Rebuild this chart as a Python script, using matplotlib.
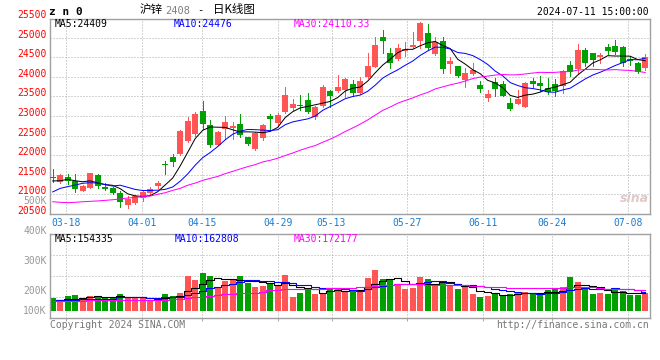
import numpy as np
import pandas as pd
import matplotlib
matplotlib.use("Agg")
import matplotlib.pyplot as plt
import matplotlib.transforms as mtransforms

# ---------------- data ----------------
dates = ["03-14", "03-15", "03-18", "03-19", "03-20", "03-21", "03-22", "03-25", "03-26", "03-27",
         "03-28", "03-29", "04-01", "04-02", "04-03", "04-08", "04-09", "04-10", "04-11", "04-12",
         "04-15", "04-16", "04-17", "04-18", "04-19", "04-22", "04-23", "04-24", "04-25", "04-26",
         "04-29", "04-30", "05-06", "05-07", "05-08", "05-09", "05-10", "05-13", "05-14", "05-15",
         "05-16", "05-17", "05-20", "05-21", "05-22", "05-23", "05-24", "05-27", "05-28", "05-29",
         "05-30", "05-31", "06-03", "06-04", "06-05", "06-06", "06-07", "06-11", "06-12", "06-13",
         "06-14", "06-17", "06-18", "06-19", "06-20", "06-21", "06-24", "06-25", "06-26", "06-27",
         "06-28", "07-01", "07-02", "07-03", "07-04", "07-05", "07-08", "07-09", "07-10", "07-11"]

open_ = [21455, 21325, 21455, 21345, 21095, 21170, 21495, 21200, 21165, 21030,
         20730, 20790, 20900, 21030, 21215, 21770, 21955, 22030, 22365, 22540,
         23130, 22770, 22270, 22670, 22700, 22795, 22460, 22160, 22430, 23010,
         22815, 23110, 23210, 23275, 23410, 22970, 23255, 23645, 23645, 23665,
         23815, 23595, 24005, 24260, 25025, 24615, 24445, 24665, 24770, 24920,
         25110, 24575, 24920, 24320, 24275, 23920, 24070, 23790, 23470, 23875,
         23815, 23340, 23305, 23240, 23900, 23850, 23705, 23815, 23765, 24300,
         24190, 24685, 24615, 24515, 24755, 24785, 24755, 24445, 24345, 24215]
high = [21650, 21515, 21515, 21515, 21240, 21555, 21515, 21300, 21185, 21090,
        20960, 20985, 21115, 21200, 21350, 21855, 22025, 22645, 22985, 23095,
        23385, 22900, 22610, 23000, 22850, 23050, 22475, 22600, 22795, 23045,
        23070, 23750, 23435, 23535, 23595, 23255, 23790, 23665, 24045, 23980,
        23920, 24005, 24600, 25025, 25195, 24725, 24835, 24895, 25150, 25405,
        25345, 25025, 25025, 24500, 24275, 24230, 24360, 23895, 23665, 23960,
        23895, 23450, 23665, 23870, 23960, 24020, 23960, 23935, 24175, 24405,
        24835, 24725, 24615, 24615, 24835, 24940, 24785, 24530, 24385, 24580]
low = [21325, 21300, 21260, 21070, 21090, 21155, 21170, 21115, 21010, 20690,
       20660, 20765, 20840, 20985, 21170, 21515, 21735, 22000, 22330, 22490,
       22670, 22220, 22255, 22420, 22420, 22460, 22260, 22135, 22390, 22645,
       22770, 23070, 23155, 23155, 23070, 22915, 23225, 23240, 23620, 23495,
       23510, 23560, 23960, 24245, 24600, 24215, 24430, 24530, 24725, 24725,
       24685, 24555, 24105, 24090, 24005, 23750, 24045, 23605, 23385, 23510,
       23510, 23155, 23305, 23225, 23750, 23645, 23560, 23510, 23595, 24020,
       24090, 24285, 24275, 24360, 24580, 24575, 24285, 24300, 24105, 24175]
close = [21420, 21495, 21350, 21130, 21225, 21540, 21225, 21145, 21030, 20800,
         20885, 20960, 21065, 21145, 21300, 21745, 21835, 22620, 22875, 23050,
         22795, 22260, 22595, 22850, 22745, 22515, 22280, 22560, 22770, 22915,
         23025, 23535, 23305, 23255, 23110, 23225, 23750, 23520, 23750, 23935,
         23595, 23895, 24275, 24810, 24920, 24345, 24725, 24700, 24810, 25380,
         24725, 24895, 24190, 24410, 24020, 24105, 24175, 23690, 23560, 23690,
         23510, 23180, 23435, 23850, 23815, 23765, 23620, 23645, 24150, 24130,
         24685, 24360, 24430, 24555, 24665, 24640, 24360, 24405, 24130, 24515]

# volume in thousands (K) on the chart's axis
volume_k = [163, 150, 175, 178, 163, 173, 167, 167, 167, 183,
            162, 162, 162, 153, 163, 183, 173, 190, 275, 253,
            288, 273, 217, 250, 253, 273, 240, 220, 223, 240,
            223, 278, 170, 190, 215, 183, 190, 207, 215, 195,
            203, 203, 265, 303, 258, 253, 228, 207, 215, 270,
            258, 228, 250, 223, 208, 220, 183, 170, 175, 190,
            178, 183, 195, 195, 183, 190, 203, 207, 220, 270,
            245, 207, 183, 190, 183, 203, 200, 178, 178, 187]

# moving-average values at the start of the window (history before it is not shown)
ma5_head = [21345, 21350, 21385, 21350]
ma10_head = [21065, 21155, 21200, 21240, 21285, 21300, 21290, 21250, 21215]
ma30_head = [20815, 20800, 20790, 20800, 20815, 20825, 20835, 20850, 20865, 20885,
             20910, 20925, 20945, 20960, 21005, 21045, 21105, 21155, 21235, 21290,
             21360, 21410, 21460, 21530, 21590, 21650, 21710, 21760, 21830]
vma5_head = [150, 153, 157, 158]
vma10_head = [150, 152, 153, 155, 157, 157, 158, 158, 160]
vma30_head = [150, 150, 150, 150, 150, 152, 152, 152, 152, 153,
              153, 153, 153, 153, 155, 155, 157, 158, 162, 167,
              170, 173, 178, 182, 185, 187, 188, 191, 194]

price_levels = [20500, 21000, 21500, 22000, 22500, 23000, 23500, 24000, 24500, 25000, 25500]
vol_label_texts = ["100K", "200K", "300K", "400K", "500K"]
date_tick_labels = ["03-18", "04-01", "04-15", "04-29", "05-13", "05-27", "06-11", "06-24", "07-08"]

symbol_text = "z n 0"
title_parts = ["沪锌", "2408", "-", "日K线图"]
timestamp_text = "2024-07-11 15:00:00"
ma_texts = ["MA5:24409", "MA10:24476", "MA30:24110.33"]
vma_texts = ["MA5:154335", "MA10:162808", "MA30:172177"]
copyright_text = "Copyright 2024 SINA.COM"
url_text = "http://finance.sina.com.cn"

# ---------------- derived ----------------
def moving_average(values, n, head):
    ma = pd.Series(values, dtype=float).rolling(n).mean().to_numpy()
    ma[:len(head)] = head
    return ma

ma5 = moving_average(close, 5, ma5_head)
ma10 = moving_average(close, 10, ma10_head)
ma30 = moving_average(close, 30, ma30_head)
vma5 = moving_average(volume_k, 5, vma5_head)
vma10 = moving_average(volume_k, 10, vma10_head)
vma30 = moving_average(volume_k, 30, vma30_head)

# ---------------- style ----------------
W, H = 660, 360
RED = "#ff5555"
GREEN = "#00a000"
GRID = "#aaaaaa"
FRAME = "#a0a0a0"
MONO = "DejaVu Sans Mono"
CJK = ["Noto Sans CJK SC", "DejaVu Sans"]
PT = 72 / 100  # one pixel in points

fig = plt.figure(figsize=(W / 100, H / 100), dpi=100)
fig.patch.set_facecolor("white")


def fx(xp):
    return xp / W


def fy(yp):
    return 1 - yp / H


def ftext(xp, yp, s, **kw):
    kw.setdefault("family", MONO)
    kw.setdefault("size", 7)
    kw.setdefault("va", "center")
    fig.text(fx(xp), fy(yp), s, **kw)


# axes rectangles in pixels
L, R = 50, 650
MAIN_T, MAIN_B = 19, 214
VOL_T, VOL_B = 234, 318
ax = fig.add_axes([fx(L), fy(MAIN_B), (R - L) / W, (MAIN_B - MAIN_T) / H])
axv = fig.add_axes([fx(L), fy(VOL_B), (R - L) / W, (VOL_B - VOL_T) / H])

n = len(close)
x = np.arange(n)
xlim = (-0.36, n - 0.36)
# Sina spreads the date grid over n-1 intervals of the frame
tick_idx = np.array([dates.index(d) for d in date_tick_labels])
grid_x = xlim[0] + (tick_idx + 0.066) * (n / (n - 1))

for a in (ax, axv):
    a.set_xlim(*xlim)
    for s in a.spines.values():
        s.set_color(FRAME)
        s.set_linewidth(1.4 * PT)
    a.set_facecolor("white")
    for gx in grid_x:
        a.axvline(gx, color=GRID, lw=1 * PT, ls=(0, (1, 2)), zorder=0)

# ---- candles ----
o = np.array(open_, float)
c = np.array(close, float)
hi = np.array(high, float)
lo = np.array(low, float)
up = c >= o
colors = np.where(up, RED, GREEN)
body_bottom = np.minimum(o, c)
body_h = np.maximum(np.abs(c - o), 25)
ax.vlines(x, lo, hi, colors=colors, lw=1 * PT, antialiased=False, zorder=2)
ax.bar(x, body_h, bottom=body_bottom, width=0.8, color=colors, lw=0, antialiased=False, zorder=3)

ax.plot(x, ma5, color="black", lw=1 * PT, zorder=4)
ax.plot(x, ma10, color="#0000ff", lw=1 * PT, zorder=4)
ax.plot(x, ma30, color="#ff00ff", lw=1 * PT, zorder=4)

ax.set_ylim(20502, 25474)
for lvl in price_levels[1:-1]:
    ax.axhline(lvl, color=GRID, lw=1 * PT, ls=(0, (1, 2)), zorder=0)
ax.set_yticks([])
trans_p = mtransforms.blended_transform_factory(fig.transFigure, ax.transData)
for lvl in price_levels:
    ax.text(fx(46.5), lvl, str(lvl), transform=trans_p, ha="right", va="baseline",
            family=MONO, size=7, color="#ff0000", clip_on=False)

ax.set_xticks(grid_x)
ax.set_xticklabels(date_tick_labels, family=MONO, size=7, color="#1a7bd0")
ax.tick_params(axis="x", length=0, pad=3)

# ---- volume ----
VOL_BASE = 100
vlo, vhi = 63.5, 483.5
axv.bar(x, np.array(volume_k) - VOL_BASE, bottom=VOL_BASE, width=0.8, color=colors,
        lw=0, antialiased=False, zorder=2)
axv.plot(x, vma5, color="black", lw=1.1 * PT, drawstyle="steps-mid", zorder=4)
axv.plot(x, vma10, color="#0000ff", lw=1.1 * PT, drawstyle="steps-mid", zorder=4)
axv.plot(x, vma30, color="#ff00ff", lw=1.1 * PT, drawstyle="steps-mid", zorder=4)
axv.set_ylim(vlo, vhi)
for k in (1, 2, 3):
    axv.axhline(vlo + (vhi - vlo) * k / 4, color=GRID, lw=1 * PT, ls=(0, (1, 2)), zorder=0)
axv.set_yticks([])
axv.set_xticks(grid_x)
axv.set_xticklabels([])
axv.tick_params(axis="x", length=2, width=1 * PT, color=GRID)
# Sina's volume labels sit at uneven spots down the left margin
vol_label_y = [310.7, 290.7, 260.7, 230.7, 200.7]
for s, yp in zip(vol_label_texts, vol_label_y):
    ftext(46.5, yp, s, ha="right", color="#999999")

# ---- header & footer texts ----
ftext(49, 12, symbol_text, weight="bold", size=8)
ftext(140, 10, title_parts[0], family=CJK, size=8.3, ha="left")
ftext(165.5, 10.5, title_parts[1], color="#808080", size=7.5, ha="left")
ftext(197, 10.5, title_parts[2], size=7.5, ha="left")
ftext(213, 10, title_parts[3], family=CJK, size=8.3, ha="left")
ftext(649, 12, timestamp_text, ha="right")

ma_colors = ["black", "#0000ff", "#ff00ff"]
for s, xp, col in zip(ma_texts, (55, 174, 294), ma_colors):
    ftext(xp, 23.7, s, color=col, ha="left")
for s, xp, col in zip(vma_texts, (55, 175, 294), ma_colors):
    ftext(xp, 238.5, s, color=col, ha="left")

ftext(50, 324.5, copyright_text, color="#777777", ha="left")
ftext(649, 324.5, url_text, color="#777777", ha="right")

# sina watermark
ftext(634, 199, "sina", family="DejaVu Sans", size=9, weight="bold", style="italic",
      color="#e0c8c8", ha="center")

fig.savefig("out.png", dpi=100, facecolor="white")
